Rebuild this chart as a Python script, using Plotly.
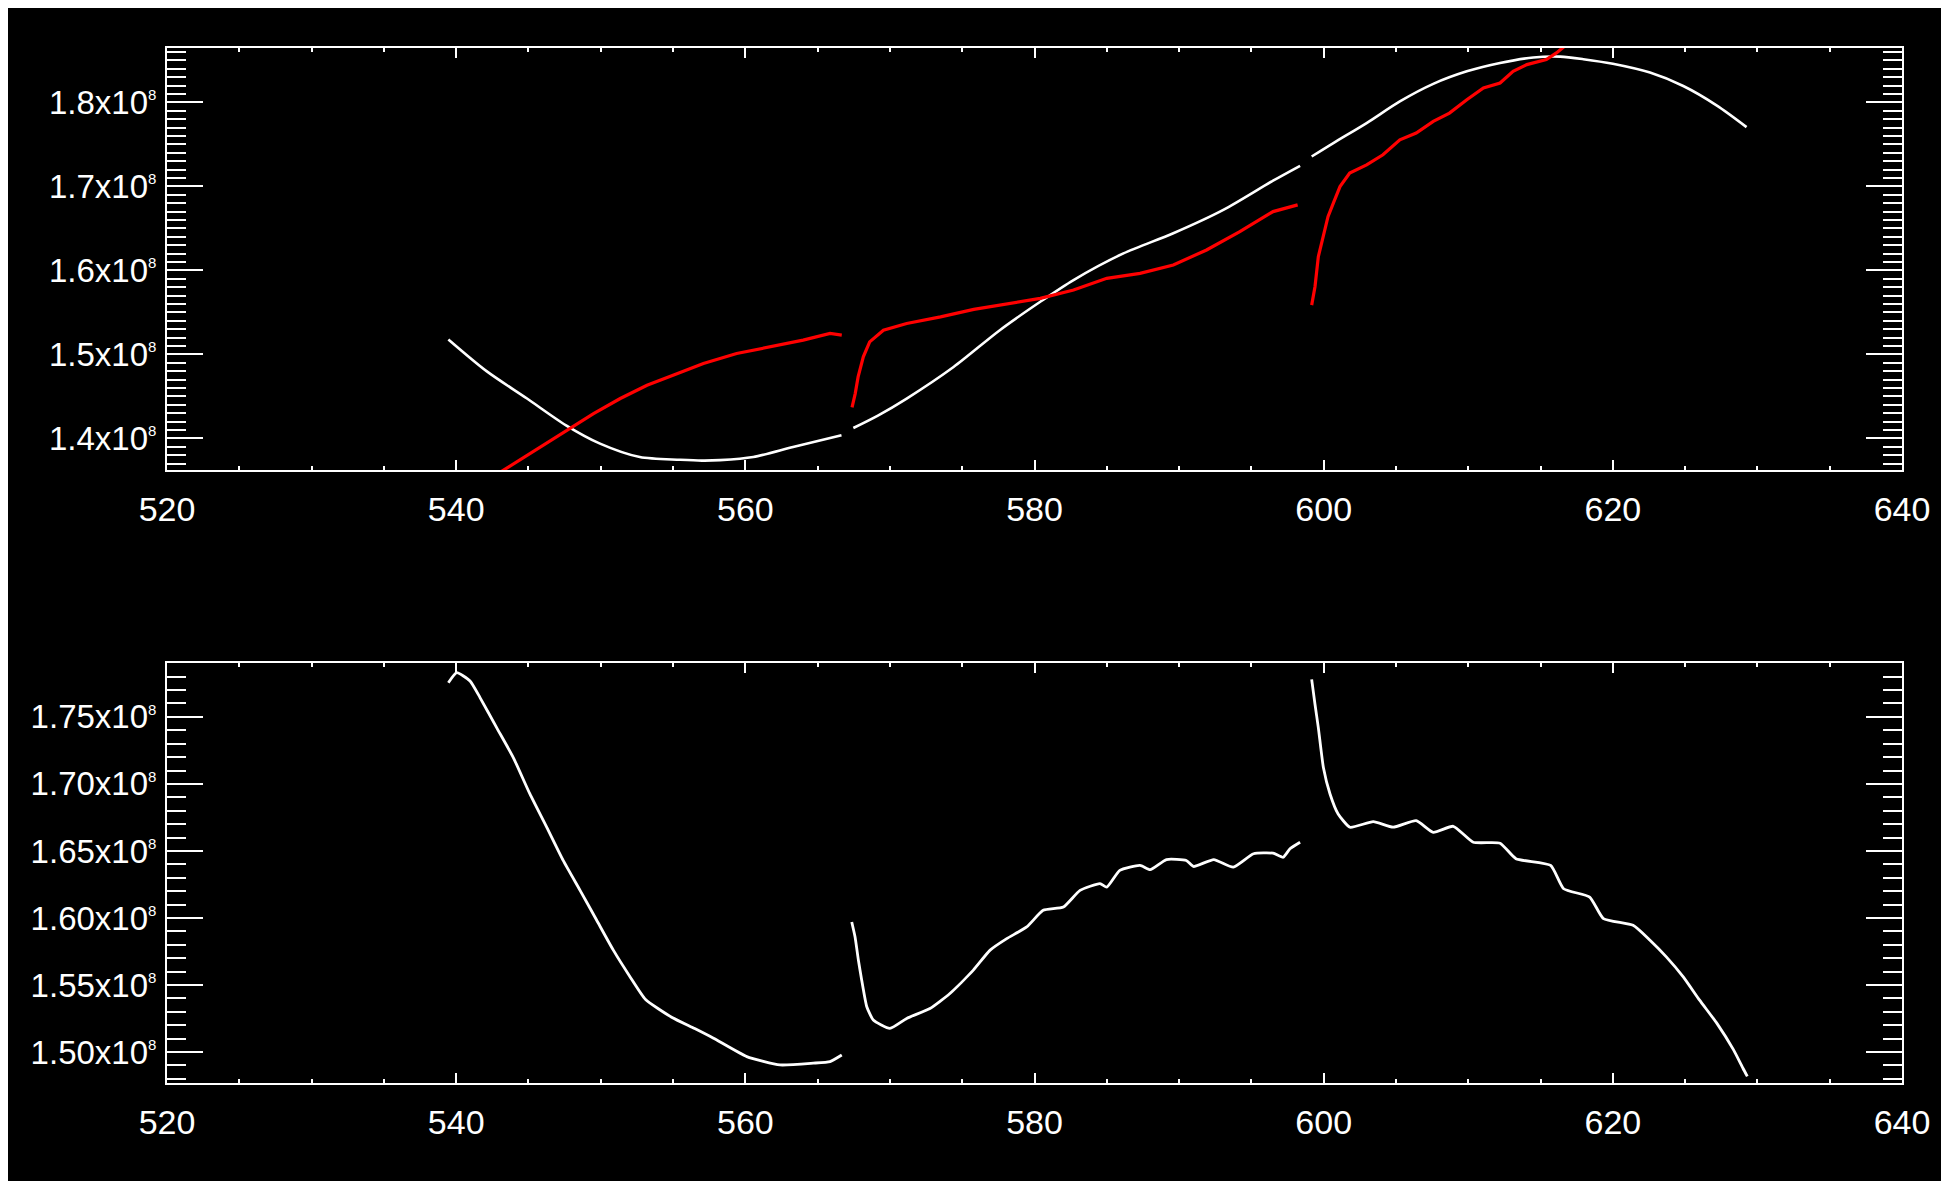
import plotly.graph_objects as go

SCALE = 1e8

# ---------- top panel: smooth fit (white), three segments ----------
fit_x1 = [539.46, 542.1, 544.9, 547.6, 549.95, 552.7, 555.5, 557.0, 558.25, 560.55, 563.3, 566.65]
fit_y1 = [1.5177, 1.480, 1.4474, 1.4155, 1.3937, 1.3777, 1.3745, 1.3735, 1.3740, 1.3777, 1.3896, 1.4036]
fit_x2 = [567.47, 569.2, 571.16, 574.4, 577.6, 580.4, 582.7, 586.15, 589.6, 593.06, 596.5, 598.37]
fit_y2 = [1.4123, 1.4274, 1.4474, 1.485, 1.5288, 1.5626, 1.5885, 1.6202, 1.6442, 1.672, 1.7068, 1.7245]
fit_x3 = [599.17, 600.67, 602.97, 605.27, 607.58, 609.9, 612.2, 614.5, 616.35, 617.96, 620.0,
          622.57, 624.87, 627.2, 629.25]
fit_y3 = [1.7356, 1.7516, 1.7754, 1.8012, 1.8221, 1.837, 1.847, 1.8535, 1.8545, 1.8515, 1.846,
          1.8355, 1.8195, 1.7962, 1.7706]

# ---------- top panel: measured data (red), three segments ----------
dat_x1 = [542.8, 544.88, 546.72, 548.1, 549.5, 551.35, 553.2, 555.0, 557.1, 559.4, 561.7, 564.0,
          565.86, 566.67]
dat_y1 = [1.357, 1.3797, 1.3996, 1.4143, 1.4295, 1.4474, 1.4632, 1.4752, 1.4891, 1.501, 1.5089,
          1.5169, 1.5249, 1.5229]
dat_x2 = [567.38, 567.6, 567.8, 568.16, 568.6, 569.55, 571.16, 573.5, 575.8, 578.1, 580.4, 582.7,
          585.0, 587.3, 589.6, 591.9, 594.2, 596.5, 598.2]
dat_y2 = [1.437, 1.4533, 1.4731, 1.497, 1.5149, 1.5288, 1.5368, 1.5447, 1.5535, 1.5599, 1.5667,
          1.5766, 1.5905, 1.5965, 1.6064, 1.6243, 1.6461, 1.670, 1.678]
dat_x3 = [599.17, 599.4, 599.63, 599.98, 600.3, 600.67, 601.13, 601.8, 602.97, 604.1, 605.27,
          606.4, 607.58, 608.7, 609.9, 611.05, 612.2, 613.1, 614.05, 615.4, 616.1, 616.6, 617.3]
dat_y3 = [1.5586, 1.5805, 1.6163, 1.6401, 1.664, 1.680, 1.6998, 1.7158, 1.7257, 1.7376, 1.7555,
          1.7635, 1.7774, 1.7873, 1.8032, 1.8172, 1.8231, 1.837, 1.845, 1.851, 1.859, 1.866, 1.874]

# ---------- bottom panel: white curve, three segments ----------
low_x1 = [539.46, 540.04, 540.96, 541.65, 542.8, 543.95, 545.1, 546.26, 547.4, 548.57, 549.72,
          550.87, 552.0, 553.1, 554.9, 556.5, 557.8, 560.1, 562.4, 564.7, 565.86, 566.67]
low_y1 = [1.7755, 1.783, 1.7768, 1.7644, 1.742, 1.7197, 1.6925, 1.6677, 1.6429, 1.6206, 1.5983,
          1.576, 1.5566, 1.5392, 1.526, 1.5175, 1.5103, 1.4966, 1.4904, 1.4917, 1.4929, 1.4978]
low_x2 = [567.36, 567.59, 567.82, 568.05, 568.4, 568.85, 570.0, 571.16, 572.77, 574.15, 575.77,
          576.93, 578.08, 579.46, 580.6, 582.0, 583.15, 584.53, 585.0, 585.9, 587.3, 588.0, 589.13,
          590.5, 591.0, 592.4, 593.75, 595.15, 596.5, 597.2, 597.67, 598.37]
low_y2 = [1.597, 1.5858, 1.5685, 1.5536, 1.5338, 1.5239, 1.5177, 1.5251, 1.5325, 1.5437, 1.5611,
          1.576, 1.5846, 1.5933, 1.6057, 1.6082, 1.6206, 1.6256, 1.623, 1.6355, 1.6392, 1.636,
          1.6436, 1.6429, 1.6384, 1.6436, 1.6379, 1.6479, 1.6483, 1.6453, 1.6516, 1.6565]
low_x3 = [599.17, 599.4, 599.63, 599.98, 600.44, 601.0, 601.82, 603.43, 604.8, 606.4, 607.58,
          608.96, 610.35, 612.2, 613.3, 615.7, 616.6, 618.4, 619.35, 621.4, 622.57, 623.7, 624.87,
          626.0, 627.2, 628.35, 629.0, 629.3]
low_y3 = [1.778, 1.7594, 1.742, 1.7123, 1.6925, 1.6776, 1.6677, 1.6719, 1.6677, 1.6726, 1.6639,
          1.6684, 1.6565, 1.6558, 1.6442, 1.6392, 1.6218, 1.6156, 1.5995, 1.5945, 1.5834, 1.571,
          1.5561, 1.5387, 1.5214, 1.5016, 1.4879, 1.4818]

# ---------- axes ----------
x_ticks = [520, 540, 560, 580, 600, 620, 640]
top_ticks = [1.4, 1.5, 1.6, 1.7, 1.8]
top_labels = ["1.4", "1.5", "1.6", "1.7", "1.8"]
low_ticks = [1.50, 1.55, 1.60, 1.65, 1.70, 1.75]
low_labels = ["1.50", "1.55", "1.60", "1.65", "1.70", "1.75"]
top_range = [1.3623, 1.8648]
low_range = [1.4769, 1.7902]


def sci(lbl):
    return lbl + "x10<sup><span style='font-size:15px'>8</span></sup>"


def scaled(v):
    return [a * SCALE for a in v]


fig = go.Figure()
for xs, ys in [(fit_x1, fit_y1), (fit_x2, fit_y2), (fit_x3, fit_y3)]:
    fig.add_trace(go.Scatter(x=xs, y=scaled(ys), mode="lines",
                             line=dict(color="white", width=2.6, shape="spline", smoothing=0.8),
                             xaxis="x", yaxis="y", showlegend=False))
for xs, ys in [(dat_x1, dat_y1), (dat_x2, dat_y2), (dat_x3, dat_y3)]:
    fig.add_trace(go.Scatter(x=xs, y=scaled(ys), mode="lines",
                             line=dict(color="#ff0000", width=3.2), xaxis="x", yaxis="y",
                             showlegend=False))
for xs, ys in [(low_x1, low_y1), (low_x2, low_y2), (low_x3, low_y3)]:
    fig.add_trace(go.Scatter(x=xs, y=scaled(ys), mode="lines",
                             line=dict(color="white", width=2.8, shape="spline", smoothing=0.5),
                             xaxis="x2", yaxis="y2", showlegend=False))

FONT = "Liberation Sans, Arial, sans-serif"
common_x = dict(range=[520, 640], tickmode="array", tickvals=x_ticks,
                ticktext=[str(t) for t in x_ticks],
                showgrid=False, zeroline=False, showline=True, linecolor="white", linewidth=2,
                mirror="allticks", ticks="inside", ticklen=10, tickwidth=2, tickcolor="white",
                minor=dict(ticks="inside", ticklen=4, tickwidth=2, tickcolor="white",
                           dtick=5, tick0=520, showgrid=False),
                tickfont=dict(family=FONT, size=34, color="white"), ticklabelstandoff=8)
common_y = dict(showgrid=False, zeroline=False, showline=True, linecolor="white", linewidth=2,
                mirror="allticks", ticks="inside", ticklen=36, tickwidth=2, tickcolor="white",
                minor=dict(ticks="inside", ticklen=19, tickwidth=2, tickcolor="white",
                           dtick=0.01 * SCALE, tick0=0, showgrid=False),
                tickfont=dict(family=FONT, size=33, color="white"), ticklabelstandoff=2,
                tickmode="array")

fig.update_layout(
    width=1933, height=1173,
    margin=dict(l=159, r=39, t=40, b=98, pad=0),
    paper_bgcolor="black", plot_bgcolor="black",
    xaxis=dict(domain=[0, 1], anchor="y", **common_x),
    yaxis=dict(domain=[0.59227, 1], anchor="x", range=[v * SCALE for v in top_range],
               tickvals=scaled(top_ticks), ticktext=[sci(t) for t in top_labels], **common_y),
    xaxis2=dict(domain=[0, 1], anchor="y2", **common_x),
    yaxis2=dict(domain=[0, 0.4058], anchor="x2", range=[v * SCALE for v in low_range],
                tickvals=scaled(low_ticks), ticktext=[sci(t) for t in low_labels], **common_y),
)

fig.write_html("out.html")
